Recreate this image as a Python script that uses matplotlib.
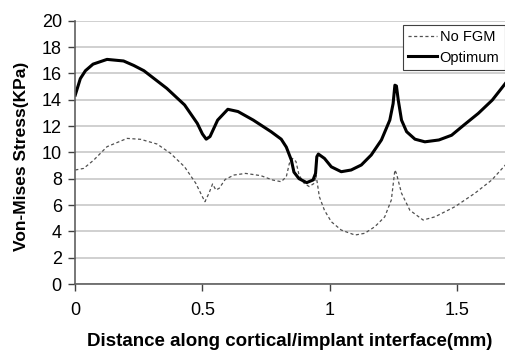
import numpy as np
import matplotlib
matplotlib.use('Agg')
import matplotlib.pyplot as plt

# distance along interface (mm) and stress (KPa)
opt_x = [0.0, 0.02, 0.04, 0.07, 0.125, 0.19, 0.23, 0.27, 0.36, 0.43, 0.48, 0.50,
         0.515, 0.53, 0.56, 0.60, 0.64, 0.70, 0.77, 0.81, 0.83, 0.85, 0.86, 0.88,
         0.91, 0.935, 0.945, 0.95, 0.956, 0.98, 1.007, 1.046, 1.085, 1.125, 1.164,
         1.204, 1.237, 1.25, 1.257, 1.263, 1.27, 1.283, 1.303, 1.336, 1.375, 1.43,
         1.48, 1.53, 1.585, 1.64, 1.697]
opt_y = [14.35, 15.6, 16.2, 16.7, 17.06, 16.94, 16.6, 16.2, 14.86, 13.6, 12.2, 11.4,
         11.0, 11.2, 12.45, 13.27, 13.1, 12.45, 11.57, 11.0, 10.4, 9.4, 8.5, 8.0,
         7.7, 7.9, 8.4, 9.67, 9.87, 9.54, 8.9, 8.53, 8.66, 9.04, 9.8,
         10.94, 12.45, 13.7, 15.1, 15.04, 14.0, 12.45, 11.57, 11.0, 10.8, 10.94,
         11.3, 12.1, 12.96, 13.97, 15.37]

nofgm_x = [0.0, 0.033, 0.072, 0.125, 0.204, 0.257, 0.322, 0.375, 0.43, 0.474, 0.50,
           0.51, 0.526, 0.54, 0.553, 0.566, 0.59, 0.625, 0.67, 0.73, 0.776, 0.81,
           0.83, 0.842, 0.855, 0.868, 0.88, 0.90, 0.92, 0.94, 0.947, 0.96, 0.98,
           1.007, 1.046, 1.10, 1.138, 1.178, 1.217, 1.243, 1.257, 1.263, 1.283,
           1.316, 1.368, 1.414, 1.493, 1.572, 1.638, 1.697]
nofgm_y = [8.66, 8.78, 9.4, 10.43, 11.06, 10.99, 10.63, 9.92, 8.9, 7.65, 6.63,
           6.25, 6.9, 7.6, 7.14, 7.27, 7.95, 8.28, 8.4, 8.23, 7.9, 7.77,
           8.15, 9.16, 9.54, 9.3, 8.28, 7.65, 7.4, 7.65, 8.28, 6.63, 5.6,
           4.73, 4.1, 3.72, 3.85, 4.35, 5.1, 6.38, 8.66, 8.4, 6.9,
           5.6, 4.86, 5.1, 5.87, 6.9, 7.9, 9.16]

xticks = [0, 0.5, 1, 1.5]
xticklabels = ['0', '0.5', '1', '1.5']
yticks = list(range(0, 21, 2))

plt.rcParams['font.family'] = ['Liberation Sans', 'DejaVu Sans']

fig = plt.figure(figsize=(5.05, 3.56), dpi=100)
ax = fig.add_axes([0.149, 0.2022, 0.851, 0.7397])

ax.plot(nofgm_x, nofgm_y, color='#505050', lw=0.9, dashes=(2.5, 2), label='No FGM')
ax.plot(opt_x, opt_y, color='black', lw=2.2, label='Optimum')

ax.set_xlim(0, 1.69)
ax.set_ylim(0, 20)
ax.set_xticks(xticks)
ax.set_xticklabels(xticklabels)
ax.set_yticks(yticks)
ax.grid(axis='y', color='#c8c8c8', lw=1.2)
ax.set_axisbelow(True)

for s in ['top', 'right']:
    ax.spines[s].set_visible(False)
for s in ['left', 'bottom']:
    ax.spines[s].set_color('#606060')
    ax.spines[s].set_linewidth(1.2)

ax.tick_params(axis='both', direction='out', length=4.7, width=1.0, color='#404040',
               labelsize=13)
ax.tick_params(axis='x', pad=8)
ax.tick_params(axis='y', pad=5)

ax.set_xlabel('Distance along cortical/implant interface(mm)', fontsize=13.5,
              fontweight='bold', va='center')
ax.set_ylabel('Von-Mises Stress(KPa)', fontsize=12.5, fontweight='bold', va='center')
ax.xaxis.set_label_coords(0.5, -0.22)
ax.yaxis.set_label_coords(-0.126, 0.486)

leg = ax.legend(loc='upper right', bbox_to_anchor=(0.999, 0.984), fontsize=10.5,
                handlelength=2.0, handletextpad=0.2, borderpad=0.35, labelspacing=0.45,
                fancybox=False, framealpha=1, edgecolor='#404040', borderaxespad=0)
leg.get_frame().set_linewidth(0.8)

fig.savefig('out.png', dpi=100)
